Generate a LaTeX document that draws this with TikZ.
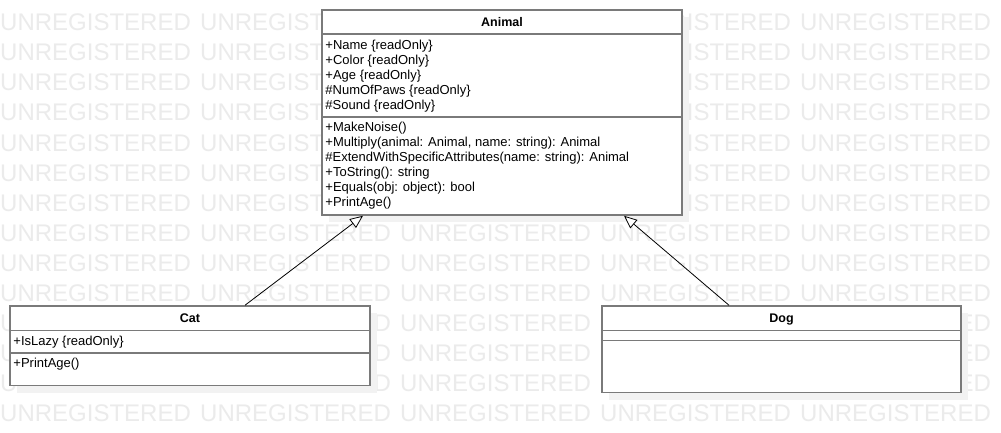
\documentclass[tikz,border=0pt]{standalone}
\usepackage{fontspec}
\setmainfont{Liberation Sans}
\usepackage{tikz}
\usetikzlibrary{calc,shadows,arrows.meta}

\tikzset{
  classbox/.style={draw=black!52, line width=1.5pt, fill=white, inner sep=0pt,
    drop shadow={shadow xshift=7pt, shadow yshift=-7pt, fill=black!5, opacity=1}},
  sepline/.style={draw=black!52, line width=1.5pt},
  header/.style={anchor=base, inner sep=0pt, font=\fontsize{12.5}{15}\selectfont\bfseries},
  member/.style={anchor=base west, inner sep=0pt, font=\fontsize{13}{15}\selectfont},
  watermark/.style={anchor=base west, inner sep=0pt, text=black!8, font=\fontsize{24}{28}\selectfont},
  inherit/.style={draw=black, line width=0.8pt, -{Triangle[open, fill=white, length=13pt, width=11pt]}}
}

\begin{document}
\begin{tikzpicture}[x=1pt, y=-1pt]
    \useasboundingbox[fill=white] (0,0) rectangle (1001,433);

    % watermark
    \foreach \r in {0,...,13}
      \foreach \c in {0,...,4}
        \node[watermark] (wm-\r-\c) at (200*\c, 31+30*\r) {UNREGISTERED};

    % classes
    \node[classbox, minimum width=360pt, minimum height=205pt] (animal) at (502,112.5) {};
    \node[classbox, minimum width=360pt, minimum height=79.5pt] (cat) at (190,345.75) {};
    \node[classbox, minimum width=359pt, minimum height=86.5pt] (dog) at (781.5,349.25) {};

    \draw[sepline] ($(animal.north west)+(0,25)$) -- ($(animal.north east)+(0,25)$);
    \draw[sepline] ($(animal.north west)+(0,108)$) -- ($(animal.north east)+(0,108)$);
    \draw[sepline] ($(cat.north west)+(0,25)$) -- ($(cat.north east)+(0,25)$);
    \draw[sepline] ($(cat.north west)+(0,47.5)$) -- ($(cat.north east)+(0,47.5)$);
    \draw[sepline] ($(dog.north west)+(0,25)$) -- ($(dog.north east)+(0,25)$);
    \draw[sepline] ($(dog.north west)+(0,35)$) -- ($(dog.north east)+(0,35)$);

    \node[header] (animal-title) at ($(animal.north)+(0,17)$) {Animal};
    \node[header] (cat-title) at ($(cat.north)+(0,17)$) {Cat};
    \node[header] (dog-title) at ($(dog.north)+(0,17)$) {Dog};

    \foreach \txt [count=\i from 0] in {+Name \{readOnly\}, +Color \{readOnly\},
        +Age \{readOnly\}, \#NumOfPaws \{readOnly\}, \#Sound \{readOnly\}}
      \node[member] (animal-attr\i) at ($(animal.north west)+(4,40.5+15*\i)$) {\txt};

    \foreach \txt [count=\i from 0] in {+MakeNoise(),
        {+Multiply(animal: Animal, name: string): Animal},
        \#ExtendWithSpecificAttributes(name: string): Animal,
        +ToString(): string, +Equals(obj: object): bool, +PrintAge()}
      \node[member] (animal-op\i) at ($(animal.north west)+(4,122.5+15*\i)$) {\txt};

    \node[member] (cat-attr0) at ($(cat.north west)+(4,40)$) {+IsLazy \{readOnly\}};
    \node[member] (cat-op0) at ($(cat.north west)+(4,62.5)$) {+PrintAge()};

    % generalisation
    \draw[inherit] ([xshift=55pt]cat.north) -- ([xshift=-139pt]animal.south);
    \draw[inherit] ([xshift=-52.5pt]dog.north) -- ([xshift=122pt]animal.south);

      % \draw[help lines] (0,0) grid[step=50] (1001,433);
\end{tikzpicture}
\end{document}
